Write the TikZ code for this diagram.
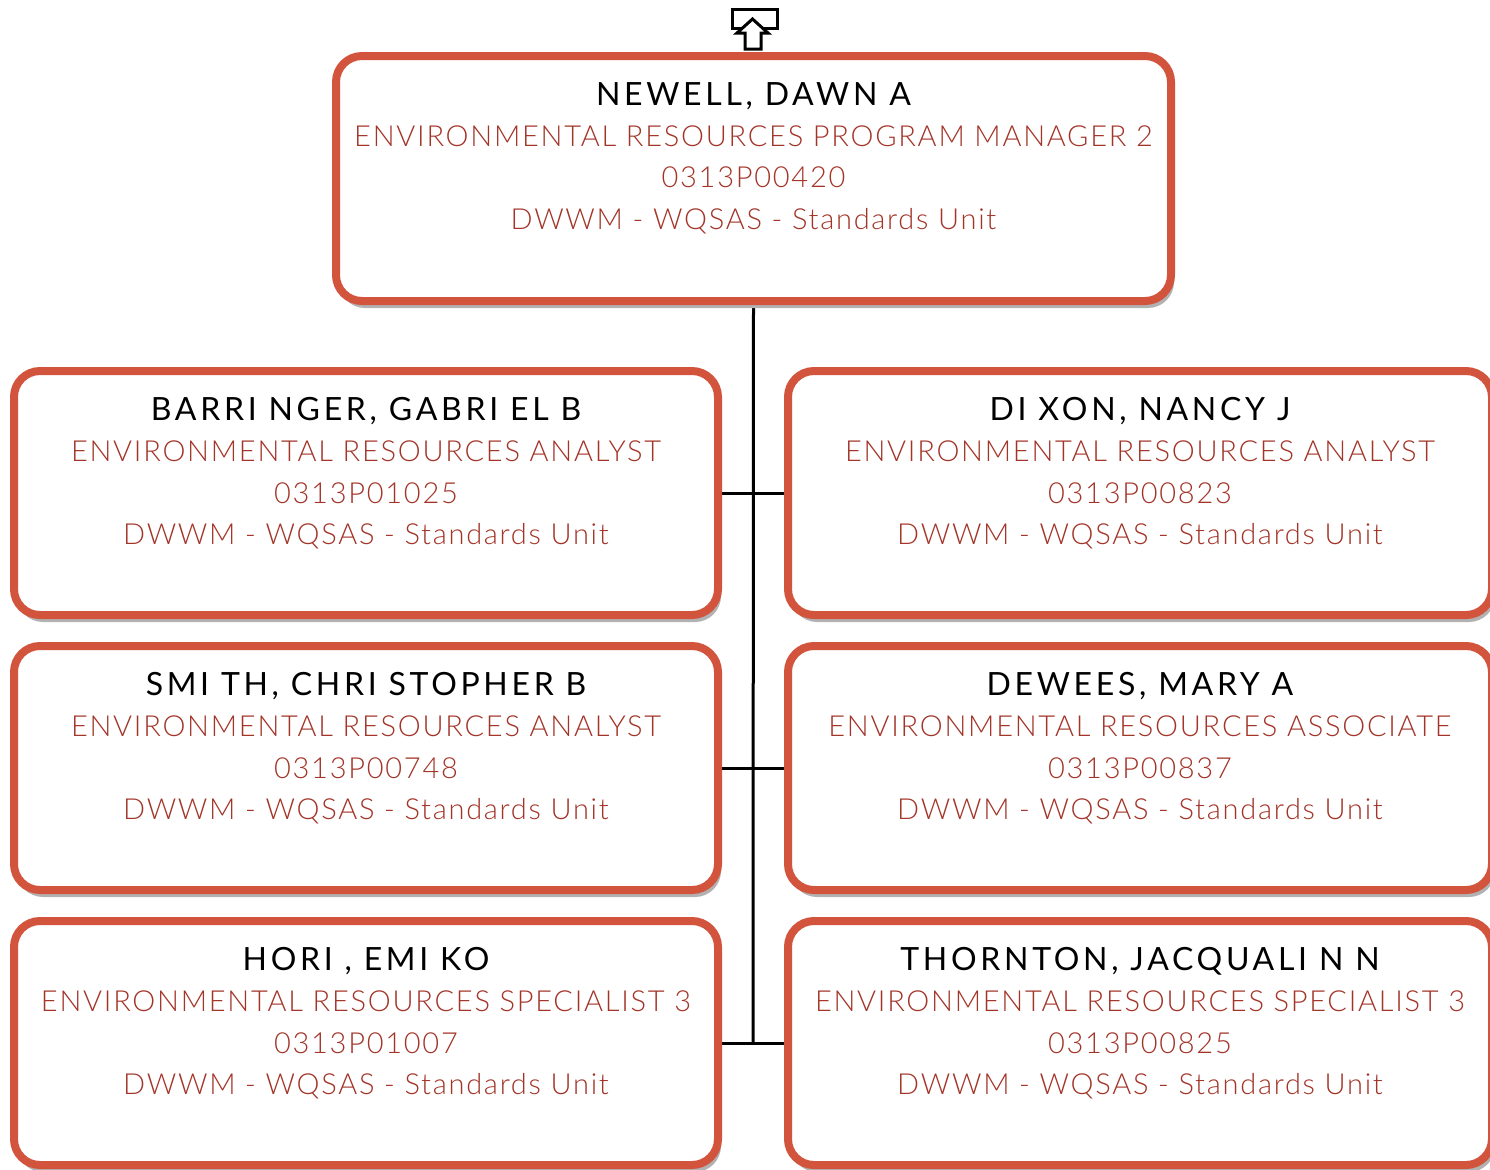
\documentclass[tikz,border=0pt]{standalone}
\usepackage{fontspec}
\setmainfont{Lato}[UprightFont=* Light, LetterSpace=6]
\newfontfamily\namefont{Lato}[LetterSpace=11.5]
\usetikzlibrary{positioning, shadows, backgrounds}
\definecolor{cardred}{RGB}{211,84,61}
\definecolor{rolered}{RGB}{163,52,40}
\definecolor{shadowgray}{RGB}{178,178,178}

\tikzset{
  card/.style={draw=cardred, line width=4pt, rounded corners=13pt, fill=white,
    minimum width=352pt, minimum height=122pt,
    drop shadow={shadow xshift=1.5pt, shadow yshift=-3.5pt, fill=shadowgray, opacity=1}},
  cardtext/.style={inner sep=0pt, align=center, text=rolered,
    font=\fontsize{14.5}{20.65}\selectfont},
  link/.style={line width=1.5pt, black}
}
\newcommand{\who}[1]{{\color{black}\namefont\fontsize{16}{20.65}\selectfont #1}}

\begin{document}
\begin{tikzpicture}[x=0.5pt, y=-0.5pt]
  \useasboundingbox (0,0) rectangle (1490,1169);

  % manager
  \node[card, minimum width=417.5pt, minimum height=122.5pt] (newell) at (753.5,178.5) {};
  \node[cardtext, below=15pt of newell.north] (newellt) {\who{NEWELL, DAWN A}\\ENVIRONMENTAL RESOURCES PROGRAM MANAGER 2\\0313P00420\\DWWM - WQSAS - Standards Unit};

  % left column
  \node[card] (barringer) at (366,493) {};
  \node[cardtext, below=15pt of barringer.north] (barringert) {\who{BARRI NGER, GABRI EL B}\\ENVIRONMENTAL RESOURCES ANALYST\\0313P01025\\DWWM - WQSAS - Standards Unit};
  \node[card] (smith) at (366,768) {};
  \node[cardtext, below=15pt of smith.north] (smitht) {\who{SMI TH, CHRI STOPHER B}\\ENVIRONMENTAL RESOURCES ANALYST\\0313P00748\\DWWM - WQSAS - Standards Unit};
  \node[card] (hori) at (366,1043) {};
  \node[cardtext, below=15pt of hori.north] (horit) {\who{HORI , EMI KO}\\ENVIRONMENTAL RESOURCES SPECIALIST 3\\0313P01007\\DWWM - WQSAS - Standards Unit};

  % right column
  \node[card] (dixon) at (1140,493) {};
  \node[cardtext, below=15pt of dixon.north] (dixont) {\who{DI XON, NANCY J}\\ENVIRONMENTAL RESOURCES ANALYST\\0313P00823\\DWWM - WQSAS - Standards Unit};
  \node[card] (dewees) at (1140,768) {};
  \node[cardtext, below=15pt of dewees.north] (deweest) {\who{DEWEES, MARY A}\\ENVIRONMENTAL RESOURCES ASSOCIATE\\0313P00837\\DWWM - WQSAS - Standards Unit};
  \node[card] (thornton) at (1140,1043) {};
  \node[cardtext, below=15pt of thornton.north] (thorntont) {\who{THORNTON, JACQUALI N N}\\ENVIRONMENTAL RESOURCES SPECIALIST 3\\0313P00825\\DWWM - WQSAS - Standards Unit};

  % connectors
  \coordinate (trunkend) at (753,1043);
  \begin{pgfonlayer}{background}
    \draw[link] (newell.south) -- (trunkend);
    \draw[link] (barringer.east) -- (dixon.west);
    \draw[link] (smith.east) -- (dewees.west);
    \draw[link] (hori.east) -- (thornton.west);
  \end{pgfonlayer}

  % up icon
  \draw[line width=1.5pt] (732,9) rectangle (777,28);
  \draw[line width=1.5pt, fill=white, line join=miter]
    (745,49) -- (745,33) -- (737,33) -- (752.5,19) -- (768,33) -- (761,33) -- (761,49) -- cycle;
\end{tikzpicture}
\end{document}
